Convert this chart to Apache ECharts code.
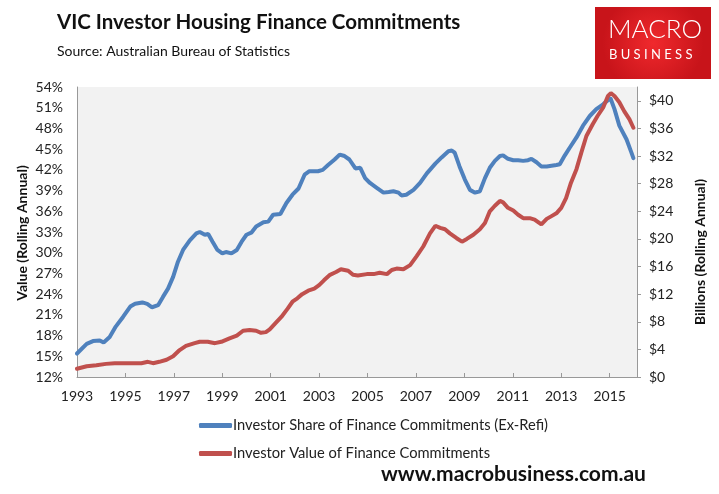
<!DOCTYPE html>
<html>
<head>
<meta charset="utf-8">
<script src="https://cdn.jsdelivr.net/npm/echarts@6/dist/echarts.min.js"></script>
<style>
html,body{margin:0;padding:0;background:#fff;}
#chart{width:719px;height:494px;}
</style>
</head>
<body>
<div id="chart"></div>
<script>
// investor share of commitments, ex-refi (%), left axis
var shareYears = [1993.0,1993.4,1993.66,1993.94,1994.1,1994.35,1994.6,1994.9,1995.2,1995.4,1995.7,1995.9,1996.1,1996.35,1996.55,1996.76,1996.97,1997.17,1997.38,1997.66,1997.93,1998.07,1998.28,1998.42,1998.6,1998.8,1999.0,1999.15,1999.38,1999.6,1999.8,2000.0,2000.2,2000.4,2000.7,2000.9,2001.1,2001.4,2001.65,2001.9,2002.15,2002.4,2002.6,2002.95,2003.15,2003.37,2003.64,2003.85,2004.05,2004.25,2004.5,2004.7,2004.9,2005.1,2005.38,2005.66,2005.87,2006.07,2006.28,2006.4,2006.6,2006.9,2007.17,2007.45,2007.8,2008.06,2008.34,2008.48,2008.6,2008.8,2009.02,2009.23,2009.44,2009.64,2009.85,2010.05,2010.26,2010.47,2010.6,2010.8,2011.02,2011.22,2011.43,2011.63,2011.77,2011.98,2012.18,2012.4,2012.6,2012.8,2012.94,2013.15,2013.35,2013.63,2013.9,2014.18,2014.45,2014.73,2014.93,2015.03,2015.2,2015.4,2015.7,2015.9,2015.98];
var shareValues = [15.4,16.8,17.2,17.3,17.0,17.8,19.3,20.7,22.2,22.6,22.8,22.6,22.1,22.4,23.6,24.8,26.5,28.7,30.4,31.8,32.8,33.0,32.6,32.7,31.6,30.4,29.9,30.1,29.9,30.4,31.6,32.6,32.9,33.8,34.4,34.5,35.5,35.6,37.2,38.4,39.3,41.3,41.8,41.8,42.0,42.7,43.5,44.2,44.0,43.5,42.2,42.3,40.8,40.1,39.4,38.7,38.8,38.9,38.7,38.3,38.4,39.1,40.1,41.5,42.9,43.8,44.7,44.8,44.5,42.5,40.6,39.1,38.7,38.9,40.8,42.3,43.3,44.0,44.1,43.6,43.4,43.4,43.3,43.4,43.6,43.1,42.5,42.5,42.6,42.7,42.8,44.1,45.2,46.7,48.4,49.8,50.8,51.5,52.1,52.4,50.8,48.4,46.4,44.5,43.7];

// investor value of commitments ($bn), right axis
var valueYears = [1993.0,1993.4,1993.8,1994.2,1994.56,1994.9,1995.3,1995.66,1995.93,1996.14,1996.4,1996.7,1996.97,1997.24,1997.5,1997.86,1998.07,1998.4,1998.7,1998.96,1999.3,1999.6,1999.86,2000.13,2000.4,2000.6,2000.8,2000.96,2001.17,2001.44,2001.7,2001.9,2002.1,2002.3,2002.55,2002.8,2003.0,2003.2,2003.45,2003.7,2003.9,2004.2,2004.4,2004.6,2004.97,2005.25,2005.5,2005.8,2006.0,2006.2,2006.48,2006.76,2007.03,2007.3,2007.58,2007.8,2008.0,2008.2,2008.4,2008.68,2008.9,2009.1,2009.37,2009.64,2009.85,2010.05,2010.26,2010.47,2010.6,2010.8,2011.02,2011.22,2011.43,2011.7,2011.9,2012.18,2012.4,2012.6,2012.8,2013.0,2013.2,2013.4,2013.63,2013.83,2014.04,2014.3,2014.5,2014.73,2014.93,2015.05,2015.2,2015.4,2015.6,2015.82,2015.98];
var valueValues = [1.2,1.55,1.7,1.9,2.0,2.0,2.0,2.0,2.2,2.0,2.2,2.5,3.0,3.9,4.5,4.9,5.1,5.1,4.9,5.1,5.6,6.0,6.7,6.8,6.7,6.4,6.5,6.9,7.7,8.7,9.9,10.9,11.4,12.0,12.5,12.8,13.3,14.0,14.8,15.2,15.6,15.4,14.8,14.7,14.9,14.9,15.1,14.9,15.5,15.7,15.6,16.2,17.5,18.9,20.8,21.9,21.6,21.4,20.8,20.1,19.6,20.0,20.6,21.4,22.3,24.0,24.8,25.5,25.3,24.5,24.1,23.5,23.0,23.0,22.8,22.1,22.9,23.3,23.7,24.5,25.9,28.1,30.1,32.5,34.9,36.6,37.8,39.0,40.7,41.1,40.7,39.8,38.5,37.3,36.1];

var shareName = 'Investor Share of Finance Commitments (Ex-Refi)';
var valueName = 'Investor Value of Finance Commitments';

function pairs(xs, ys) {
    var out = [];
    for (var i = 0; i < xs.length; i++) out.push([xs[i], ys[i]]);
    return out;
}

var font = 'Lato';
var myChart = echarts.init(document.getElementById('chart'));

var option = {
    backgroundColor: '#ffffff',
    animation: false,
    textStyle: {fontFamily: font},
    grid: {left: 77, right: 82, top: 87, bottom: 117, show: true, backgroundColor: '#f2f2f2', borderWidth: 0},
    legend: {
        orient: 'vertical',
        left: 194,
        top: 413,
        itemWidth: 33,
        itemHeight: 5,
        itemGap: 13,
        icon: 'roundRect',
        textStyle: {fontFamily: font, fontSize: 14.7, color: '#222', padding: [0, 0, 0, -4]},
        data: [shareName, valueName]
    },
    xAxis: {
        type: 'value',
        min: 1993,
        max: 2016.13,
        interval: 2,
        axisLine: {lineStyle: {color: '#999', width: 1}},
        axisTick: {inside: true, length: 4, lineStyle: {color: '#999'}},
        splitLine: {show: false},
        axisLabel: {fontSize: 14, color: '#222', margin: 12, showMaxLabel: false, formatter: function (v) { return String(v); }}
    },
    yAxis: [{
        type: 'value',
        min: 12,
        max: 54,
        interval: 3,
        position: 'left',
        axisLine: {show: true, lineStyle: {color: '#999'}},
        axisTick: {show: false},
        splitLine: {show: false},
        axisLabel: {fontSize: 14, color: '#222', margin: 14, formatter: '{value}%'}
    }, {
        type: 'value',
        min: 0,
        max: 42,
        interval: 4,
        position: 'right',
        axisLine: {show: true, lineStyle: {color: '#999'}},
        axisTick: {show: true, length: 4, lineStyle: {color: '#999'}},
        splitLine: {show: false},
        axisLabel: {fontSize: 14, color: '#222', margin: 12, showMaxLabel: false, formatter: function (v) { return '$' + v; }}
    }],
    series: [{
        name: shareName,
        type: 'line',
        yAxisIndex: 0,
        showSymbol: false,
        color: '#4f81bd',
        lineStyle: {width: 4, color: '#4f81bd', cap: 'round'},
        data: pairs(shareYears, shareValues)
    }, {
        name: valueName,
        type: 'line',
        yAxisIndex: 1,
        showSymbol: false,
        color: '#c0504d',
        lineStyle: {width: 4, color: '#c0504d', cap: 'round'},
        data: pairs(valueYears, valueValues)
    }],
    graphic: [
        {type: 'text', left: 57, top: 12, style: {text: 'VIC Investor Housing Finance Commitments', font: 'bold 20.5px Lato', fill: '#111'}},
        {type: 'text', left: 57, top: 44, style: {text: 'Source: Australian Bureau of Statistics', font: '14px Lato', fill: '#111'}},
        {type: 'rect', left: 595, top: 7, shape: {width: 116, height: 72},
            style: {fill: new echarts.graphic.RadialGradient(0.5, 0.5, 0.7, [{offset: 0, color: '#f0292d'}, {offset: 1, color: '#c8141a'}])}},
        {type: 'text', left: 608, top: 17, style: {text: 'MACRO', font: '300 26px Lato', fill: '#ffffff'}},
        {type: 'text', left: 609, top: 48, style: {text: 'B U S I N E S S', font: '13px Lato', fill: '#ffffff'}},
        {type: 'text', x: 22, y: 233, rotation: Math.PI / 2,
            style: {text: 'Value (Rolling Annual)', font: 'bold 14px Lato', fill: '#111', align: 'center', verticalAlign: 'middle'}},
        {type: 'text', x: 700, y: 252, rotation: Math.PI / 2,
            style: {text: 'Billions (Rolling Annual)', font: 'bold 14px Lato', fill: '#111', align: 'center', verticalAlign: 'middle'}},
        {type: 'text', left: 381, top: 464, style: {text: 'www.macrobusiness.com.au', font: 'bold 21px Lato', fill: '#111'}}
    ]
};

myChart.setOption(option);
</script>
</body>
</html>
